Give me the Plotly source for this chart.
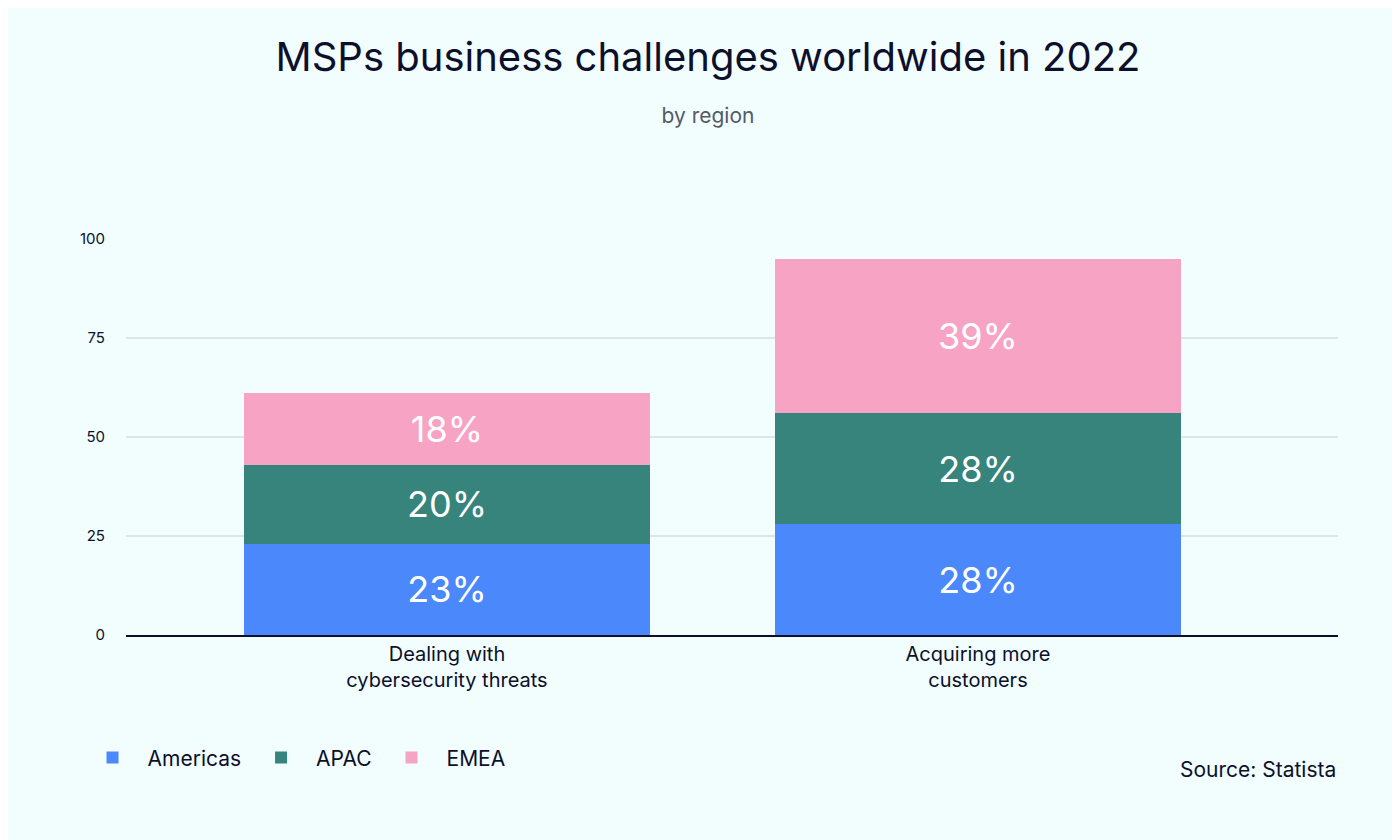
import plotly.graph_objects as go

categories = ["Dealing with<br>cybersecurity threats", "Acquiring more<br>customers"]
americas = [23, 28]
apac = [20, 28]
emea = [18, 39]
series = [("Americas", americas, "#4a88fc"), ("APAC", apac, "#36847b"), ("EMEA", emea, "#f7a3c4")]

fig = go.Figure()
for name, vals, col in series:
    fig.add_trace(go.Bar(
        x=[0, 1], y=vals, name=name, marker=dict(color=col, line=dict(width=0)),
        width=0.765, text=[f"{v}%" for v in vals], textposition="inside",
        insidetextanchor="middle", textfont=dict(color="white", size=36, family="Inter"),
        hoverinfo="skip"))

fig.update_layout(
    barmode="stack", width=1400, height=840,
    paper_bgcolor="#f1fefd", plot_bgcolor="#f1fefd",
    margin=dict(l=118, r=70, t=231, b=213),
    font=dict(family="Inter", color="#0d0f2b"),
    title=dict(text="MSPs business challenges worldwide in 2022<br><span style='font-size:21px;color:#555a66'>by region</span>",
               x=0.5, xanchor="center", y=0.925, yanchor="top", font=dict(size=40, color="#0d0f2b")),
    xaxis=dict(range=[-0.6045, 1.678], tickvals=[0, 1], ticktext=categories,
               tickfont=dict(size=20, color="#0d0f2b"), showgrid=False, zeroline=False,
               showline=True, linecolor="#0d0f2b", linewidth=2, ticks=""),
    yaxis=dict(range=[0, 100], tickvals=[0, 25, 50, 75, 100], gridcolor="#dde5e5", gridwidth=2,
               zeroline=False, tickfont=dict(size=15, color="#0d0f2b"), ticklabelstandoff=20),
    legend=dict(orientation="h", x=-0.04, xanchor="left", y=-0.31, yanchor="middle",
                font=dict(size=21), itemwidth=60, traceorder="normal"),
    showlegend=True,
)
fig.add_annotation(text="Source: Statista", xref="paper", yref="paper", x=1.0, y=-0.34,
                   xanchor="right", yanchor="middle", showarrow=False, font=dict(size=21, color="#0d0f2b"))
fig.write_html("out.html")
